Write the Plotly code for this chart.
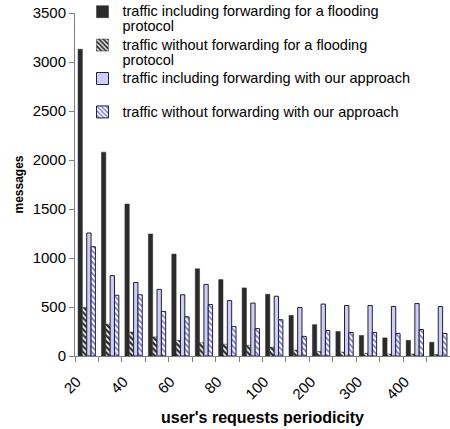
import plotly.graph_objects as go

categories = ["20", "30", "40", "50", "60", "70", "80", "90", "100",
              "150", "200", "250", "300", "350", "400", "450"]
tick_labels = ["20", "", "40", "", "60", "", "80", "", "100",
               "", "200", "", "300", "", "400", ""]

flood_incl = [3130, 2080, 1550, 1245, 1040, 890, 780, 695, 630, 415, 320, 250, 210, 185, 160, 140]
flood_excl = [495, 325, 245, 195, 160, 135, 120, 110, 90, 60, 45, 40, 27, 20, 20, 15]
ours_incl = [1255, 820, 750, 680, 625, 730, 565, 540, 610, 495, 530, 515, 515, 505, 535, 505]
ours_excl = [1115, 620, 625, 455, 400, 525, 300, 280, 370, 200, 260, 240, 240, 230, 270, 230]

def big(s):
    return '<span style="font-size:14.5px">' + s + '</span>'

names = [
    big("traffic including forwarding for a flooding") + "<br>" + big("protocol"),
    big("traffic without forwarding for a flooding") + "<br>" + big("protocol"),
    big("traffic including forwarding with our approach") + "<br>&nbsp;",
    big("traffic without forwarding with our approach"),
]

FONT = "Arial, Liberation Sans, sans-serif"

fig = go.Figure()
fig.add_trace(go.Bar(x=categories, y=flood_incl, name=names[0],
                     marker=dict(color="#2b2b2b", line=dict(color="#2b2b2b", width=0.5))))
fig.add_trace(go.Bar(x=categories, y=flood_excl, name=names[1],
                     marker=dict(color="#2b2b2b", line=dict(color="#2b2b2b", width=0.5),
                                 pattern=dict(shape="\\", bgcolor="#2b2b2b", fgcolor="white",
                                              fgopacity=1, size=4, solidity=0.45))))
fig.add_trace(go.Bar(x=categories, y=ours_incl, name=names[2],
                     marker=dict(color="#ccccff", line=dict(color="#222222", width=1))))
fig.add_trace(go.Bar(x=categories, y=ours_excl, name=names[3],
                     marker=dict(color="white", line=dict(color="#222222", width=1),
                                 pattern=dict(shape="\\", bgcolor="white", fgcolor="#6b6bff",
                                              fgopacity=1, size=4, solidity=0.4))))

fig.update_layout(
    width=450, height=429,
    margin=dict(l=75, r=0, t=13, b=73, autoexpand=False),
    paper_bgcolor="white", plot_bgcolor="white",
    barmode="group", bargap=0.26, bargroupgap=0,
    font=dict(family=FONT, size=15, color="black"),
    showlegend=True,
    legend=dict(x=0.02, y=1.045, xanchor="left", yanchor="top",
                bgcolor="rgba(0,0,0,0)", font=dict(family=FONT, size=11.7),
                valign="top", tracegroupgap=0),
)
fig.update_xaxes(
    type="category", range=[-0.5, 15.5],
    tickmode="array", tickvals=categories, ticktext=tick_labels,
    tickson="boundaries", ticks="outside", ticklen=5, tickcolor="#808080",
    tickangle=-45, tickfont=dict(family=FONT, size=15),
    ticklabelshift=-10, ticklabelstandoff=10,
    showline=True, linecolor="#808080", linewidth=1, showgrid=False,
    title=dict(text="<b>user's requests periodicity</b>", font=dict(family=FONT, size=16), standoff=10),
)
fig.update_yaxes(
    range=[0, 3500], tickvals=[0, 500, 1000, 1500, 2000, 2500, 3000, 3500],
    ticks="outside", ticklen=5, tickcolor="#808080",
    tickfont=dict(family=FONT, size=15),
    showline=True, linecolor="#808080", linewidth=1, showgrid=False, zeroline=False,
    title=dict(text="<b>messages</b>", font=dict(family=FONT, size=12), standoff=6),
)

fig.write_html("out.html", config={"displayModeBar": False},
               post_script="document.body.style.margin='0px';")
